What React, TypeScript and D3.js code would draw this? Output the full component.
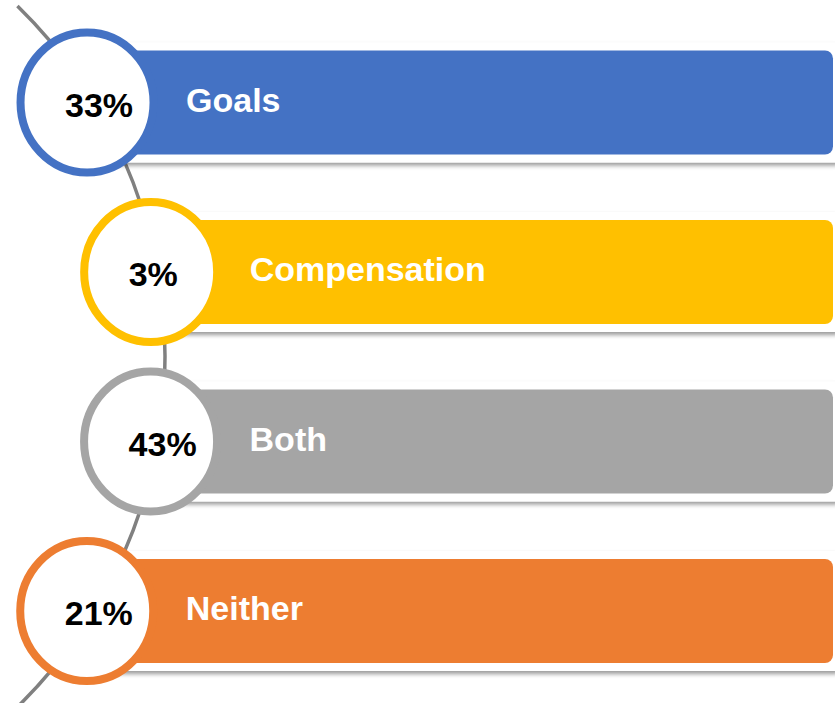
import React from "react";
import * as d3 from "d3";

const categories = ["Goals", "Compensation", "Both", "Neither"];
const values = [33, 3, 43, 21];
const colors = ["#4472C4", "#FFC000", "#A5A5A5", "#ED7D31"];

const W = 835;
const H = 703;

export default function App() {
  const y = d3.scalePoint<string>().domain(categories).range([102.5, 611]);
  // big guiding arc
  const acx = -325;
  const acy = 356.5;
  const R = 490;
  const arcX = (yy: number) => acx + Math.sqrt(R * R - (yy - acy) * (yy - acy));
  const y0 = 6;
  const y1 = 706;
  const arcPath = `M${arcX(y0)},${y0} A${R},${R} 0 0 1 ${arcX(y1)},${y1}`;
  const font = "'Liberation Sans', Arial, sans-serif";

  return (
    <svg width={W} height={H} style={{ position: "absolute", left: 0, top: 0, background: "#fff" }}>
      <defs>
        <filter id="sh" x="-5%" y="-20%" width="110%" height="150%">
          <feDropShadow dx="0" dy="3" stdDeviation="2" floodColor="#000" floodOpacity="0.4" />
        </filter>
      </defs>
      <path d={arcPath} fill="none" stroke="#808080" strokeWidth={3.5} />
      {categories.map((c, i) => {
        const cy = y(c) as number;
        const cx = arcX(cy) - 8;
        return (
          <g key={c}>
            <rect x={cx} y={cy - 60} width={W + 10 - cx} height={120} rx={10} fill="#fff" filter="url(#sh)" />
            <rect x={cx} y={cy - 52} width={833 - cx} height={104} rx={8} fill={colors[i]} />
          </g>
        );
      })}
      {categories.map((c, i) => {
        const cy = y(c) as number;
        const cx = arcX(cy) - 7;
        return (
          <g key={c + "c"}>
            <ellipse cx={cx} cy={cy} rx={66.5} ry={70} fill="#fff" stroke={colors[i]} strokeWidth={8} />
            <text x={cx - 22} y={cy + 14} fontFamily={font} fontWeight="bold" fontSize={34} fill="#000">
              {values[i]}%
            </text>
            <text x={cx + 99} y={cy + 9} fontFamily={font} fontWeight="bold" fontSize={34} fill="#fff">
              {c}
            </text>
          </g>
        );
      })}
    </svg>
  );
}
